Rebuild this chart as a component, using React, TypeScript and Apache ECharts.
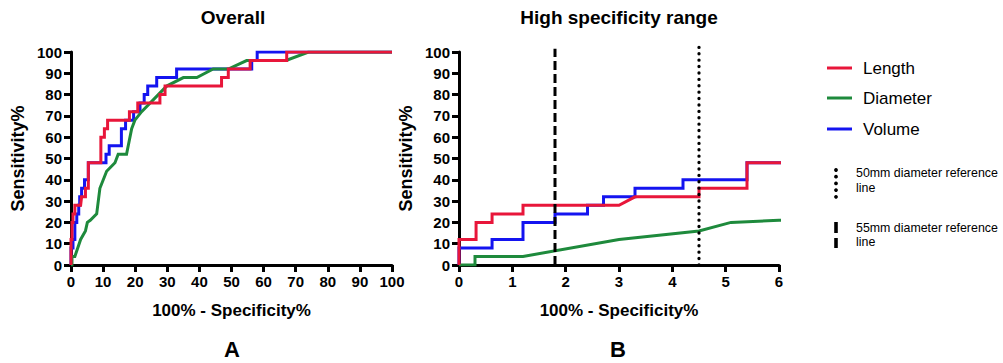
import React, { useEffect, useRef } from "react";
import * as echarts from "echarts";

// ROC curve vertices (x = 100% - Specificity%, y = Sensitivity%)
const lengthX = [0, 0, 0.32, 0.32, 0.62, 0.62, 1.2, 1.2, 3.0, 3.3, 4.5, 4.5, 5.4, 5.4, 9.3, 9.3, 10.4, 10.4, 11.4, 11.4, 18.2, 18.2, 20.8, 20.8, 27.7, 27.7, 29.3, 29.3, 46.9, 46.9, 49, 49, 55.8, 55.8, 67.2, 67.2, 100];
const lengthY = [0, 12, 12, 20, 20, 24, 24, 28, 28, 32, 32, 36, 36, 48, 48, 60, 60, 64, 64, 68, 68, 72, 72, 76, 76, 80, 80, 84, 84, 88, 88, 92, 92, 96, 96, 100, 100];

const diameterX = [0, 0.3, 0.3, 1.2, 3.0, 4.5, 5.1, 6, 8, 9, 11.1, 13.7, 14.7, 17.3, 18.9, 19.9, 22, 29.8, 35, 39.2, 44.3, 49, 54.7, 67, 74, 100];
const diameterY = [0, 0, 4, 4, 12, 16, 20, 21, 24, 36, 44, 48, 52, 52, 64, 68, 72, 84, 88, 88, 92, 92, 96, 96, 100, 100];

const volumeX = [0, 0, 0.62, 0.62, 1.2, 1.2, 1.8, 1.8, 2.41, 2.41, 2.71, 2.71, 3.3, 3.3, 4.2, 4.2, 5.4, 5.4, 10.9, 10.9, 11.9, 11.9, 15.7, 15.7, 17, 17, 19.5, 19.5, 21.5, 21.5, 22.8, 22.8, 23.9, 23.9, 26.7, 26.7, 32.9, 32.9, 56.3, 56.3, 58, 58, 100];
const volumeY = [0, 8, 8, 12, 12, 20, 20, 24, 24, 28, 28, 32, 32, 36, 36, 40, 40, 48, 48, 52, 52, 56, 56, 64, 64, 68, 68, 72, 72, 76, 76, 80, 80, 84, 84, 88, 88, 92, 92, 96, 96, 100, 100];

// reference lines (x position on the high specificity panel)
const ref50mmX = 4.5;
const ref55mmX = 1.8;
const refLineY = [0, 103];

const leftXTicks = { min: 0, max: 100, interval: 10 };
const rightXTicks = { min: 0, max: 6, interval: 1 };
const yTicks = { min: 0, max: 100, interval: 10 };

const seriesNames = ["Length", "Diameter", "Volume"];
const titles = ["Overall", "High specificity range"];
const panelLetters = ["A", "B"];

const RED = "#e8163a";
const GREEN = "#1e8a3c";
const BLUE = "#1414f0";
const FONT = '"Liberation Sans", Arial, Helvetica, sans-serif';

const zip = (xs: number[], ys: number[]) => xs.map((x, i) => [x, ys[i]]);

export default function App() {
  const ref = useRef<HTMLDivElement>(null);
  useEffect(() => {
    document.body.style.margin = "0";
    const chart = echarts.init(ref.current!, null, { renderer: "svg" });

    const axisCommon = {
      axisLine: { show: true, lineStyle: { color: "#000", width: 3 } },
      axisTick: { show: true, length: 7, lineStyle: { color: "#000", width: 3 } },
      axisLabel: { color: "#000", fontFamily: FONT, fontWeight: "bold", fontSize: 15, margin: 9 },
      splitLine: { show: false },
      nameTextStyle: { color: "#000", fontFamily: FONT, fontWeight: "bold", fontSize: 17 },
    };

    const xAxis = [0, 1].map((i) => ({
      type: "value",
      gridIndex: i,
      ...(i === 0 ? leftXTicks : rightXTicks),
      ...axisCommon,
      name: "100% - Specificity%",
      nameLocation: "middle",
      nameGap: 37,
    }));
    const yAxis = [0, 1].map((i) => ({
      type: "value",
      gridIndex: i,
      ...yTicks,
      ...axisCommon,
      name: "Sensitivity%",
      nameLocation: "middle",
      nameGap: 44,
      nameTextStyle: { ...axisCommon.nameTextStyle, fontSize: 18 },
    }));

    const mk = (name: string, xs: number[], ys: number[], color: string, idx: number, z: number) => ({
      type: "line",
      name,
      xAxisIndex: idx,
      yAxisIndex: idx,
      data: zip(xs, ys),
      symbol: "none",
      z,
      lineStyle: { color, width: 3, join: "miter" },
      itemStyle: { color },
    });

    const series: any[] = [];
    [0, 1].forEach((idx) => {
      series.push(mk(seriesNames[2], volumeX, volumeY, BLUE, idx, 2));
      series.push(mk(seriesNames[1], diameterX, diameterY, GREEN, idx, 3));
      series.push(mk(seriesNames[0], lengthX, lengthY, RED, idx, 4));
    });
    series.push({
      type: "line",
      name: "50mm diameter reference line",
      xAxisIndex: 1,
      yAxisIndex: 1,
      data: refLineY.map((y) => [ref50mmX, y]),
      symbol: "none",
      clip: false,
      z: 5,
      lineStyle: { color: "#000", width: 3.3, type: [0.1, 6.3], cap: "round" },
    });
    series.push({
      type: "line",
      name: "55mm diameter reference line",
      xAxisIndex: 1,
      yAxisIndex: 1,
      data: [[ref55mmX, 0], [ref55mmX, 101.5]],
      symbol: "none",
      clip: false,
      z: 5,
      lineStyle: { color: "#000", width: 3, type: [9, 4] },
    });

    const legendItems = [
      { name: seriesNames[0], color: RED, y: 68 },
      { name: seriesNames[1], color: GREEN, y: 98 },
      { name: seriesNames[2], color: BLUE, y: 129 },
    ];
    const graphic: any[] = [];
    legendItems.forEach((it) => {
      graphic.push({ type: "line", shape: { x1: 827, y1: it.y, x2: 852, y2: it.y }, style: { stroke: it.color, lineWidth: 3 } });
      graphic.push({ type: "text", x: 863, y: it.y, style: { text: it.name, font: `17px ${FONT}`, fill: "#000", align: "left", verticalAlign: "middle" } });
    });
    [170, 176.7, 183.4, 190.1, 196.8].forEach((cy) => {
      graphic.push({ type: "circle", shape: { cx: 836, cy, r: 1.9 }, style: { fill: "#000" } });
    });
    graphic.push({ type: "rect", shape: { x: 834.2, y: 222, width: 3.6, height: 11 }, style: { fill: "#000" } });
    graphic.push({ type: "rect", shape: { x: 834.2, y: 238, width: 3.6, height: 10 }, style: { fill: "#000" } });
    [
      { t: "50mm diameter reference", y: 173 },
      { t: "line", y: 188 },
      { t: "55mm diameter reference", y: 228 },
      { t: "line", y: 242 },
    ].forEach((r) => {
      graphic.push({ type: "text", x: 856, y: r.y, style: { text: r.t, font: `12.4px ${FONT}`, fill: "#000", align: "left", verticalAlign: "middle" } });
    });
    [233, 619].forEach((cx, i) => {
      graphic.push({ type: "text", x: cx, y: 17, style: { text: titles[i], font: `bold 19px ${FONT}`, fill: "#000", align: "center", verticalAlign: "middle" } });
      graphic.push({ type: "text", x: cx - 1, y: 349, style: { text: panelLetters[i], font: `bold 22px ${FONT}`, fill: "#000", align: "center", verticalAlign: "middle" } });
    });

    chart.setOption({
      animation: false,
      grid: [
        { left: 71, top: 52, width: 321, height: 213, containLabel: false },
        { left: 459, top: 52, width: 320, height: 213, containLabel: false },
      ],
      xAxis,
      yAxis,
      series,
      graphic,
    });
    return () => chart.dispose();
  }, []);
  return <div ref={ref} style={{ width: 1003, height: 363 }} />;
}
